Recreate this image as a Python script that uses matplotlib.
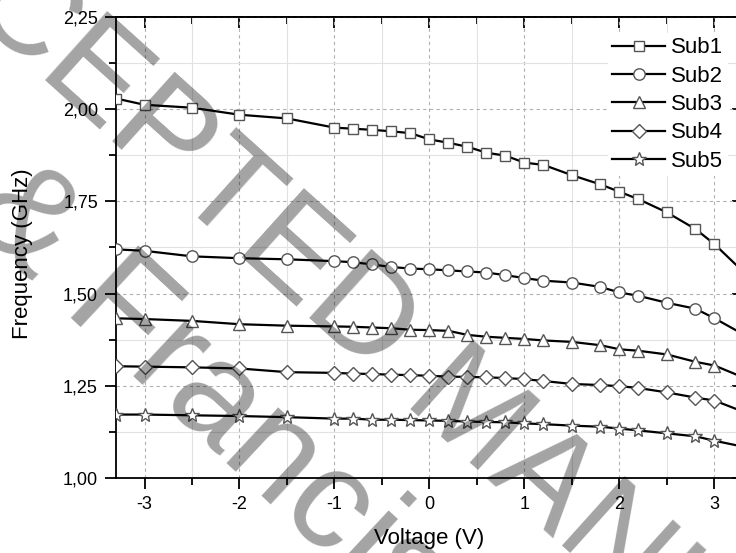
import matplotlib
matplotlib.use("Agg")
import matplotlib.pyplot as plt
from matplotlib.ticker import MultipleLocator, FuncFormatter

plt.rcParams['font.family'] = ['Liberation Sans', 'DejaVu Sans']
plt.rcParams['axes.unicode_minus'] = False

voltage = [-3.3, -3.0, -2.5, -2.0, -1.5, -1.0, -0.8, -0.6, -0.4, -0.2, 0.0, 0.2, 0.4,
           0.6, 0.8, 1.0, 1.2, 1.5, 1.8, 2.0, 2.2, 2.5, 2.8, 3.0, 3.3]
sub1 = [2.029, 2.012, 2.004, 1.985, 1.975, 1.950, 1.947, 1.944, 1.940, 1.935, 1.918, 1.909, 1.898,
        1.882, 1.874, 1.855, 1.849, 1.821, 1.796, 1.776, 1.756, 1.720, 1.675, 1.634, 1.56]
sub2 = [1.620, 1.616, 1.601, 1.596, 1.593, 1.588, 1.585, 1.579, 1.572, 1.568, 1.566, 1.563, 1.560,
        1.557, 1.550, 1.542, 1.535, 1.530, 1.518, 1.503, 1.494, 1.475, 1.459, 1.433, 1.39]
sub3 = [1.433, 1.431, 1.426, 1.417, 1.413, 1.411, 1.410, 1.408, 1.406, 1.402, 1.401, 1.399, 1.388,
        1.383, 1.380, 1.377, 1.373, 1.369, 1.360, 1.349, 1.345, 1.335, 1.315, 1.305, 1.273]
sub4 = [1.303, 1.302, 1.300, 1.297, 1.287, 1.285, 1.283, 1.282, 1.280, 1.279, 1.277, 1.275, 1.274,
        1.273, 1.271, 1.268, 1.263, 1.255, 1.252, 1.249, 1.244, 1.232, 1.218, 1.210, 1.18]
sub5 = [1.172, 1.172, 1.170, 1.168, 1.165, 1.161, 1.161, 1.158, 1.158, 1.157, 1.156, 1.155, 1.153,
        1.152, 1.151, 1.148, 1.146, 1.142, 1.139, 1.134, 1.129, 1.121, 1.113, 1.101, 1.085]
series = [sub1, sub2, sub3, sub4, sub5]
labels = ["Sub1", "Sub2", "Sub3", "Sub4", "Sub5"]
markers = ["s", "o", "^", "D", "*"]
msizes = [7.8, 8.2, 8.2, 7.2, 10]
xticks = [-3, -2, -1, 0, 1, 2, 3]

W, H = 736, 553
fig = plt.figure(figsize=(W / 100, H / 100), dpi=100)
ax_l, ax_r, ax_t, ax_b = 116, 743, 17, 478
ax = fig.add_axes([ax_l / W, 1 - ax_b / H, (ax_r - ax_l) / W, (ax_b - ax_t) / H])

for ys, lab, mk, ms in zip(series, labels, markers, msizes):
    ax.plot(voltage, ys, color='black', lw=1.6, marker=mk, ms=ms, mfc='white',
            mec='#555555', mew=1.0, label=lab, zorder=3)

ax.set_xlim(-3.3, 3.3)
ax.set_ylim(1.0, 2.25)
ax.set_xticks(xticks)
ax.xaxis.set_minor_locator(MultipleLocator(0.5))
ax.yaxis.set_major_locator(MultipleLocator(0.25))
ax.yaxis.set_minor_locator(MultipleLocator(0.125))
ax.yaxis.set_major_formatter(FuncFormatter(lambda v, p: f"{v:.2f}".replace('.', ',')))
ax.xaxis.set_major_formatter(FuncFormatter(lambda v, p: f"{v:g}"))

ax.grid(which='major', color='#b0b0b0', ls=(0, (3, 3)), lw=0.8, zorder=0)
ax.grid(which='minor', color='#e2e2e2', ls='-', lw=0.8, zorder=0)
ax.set_axisbelow(True)

for s in ax.spines.values():
    s.set_linewidth(1.3)
ax.tick_params(which='both', direction='out', width=1.3, labelsize=13, colors='black',
               top=False, right=False)
ax.tick_params(which='major', length=8, pad=5)
ax.tick_params(which='minor', length=5)

secx = ax.secondary_xaxis('top')
secx.set_xticks(xticks)
secx.xaxis.set_minor_locator(MultipleLocator(0.5))
secx.tick_params(which='both', direction='in', width=1.3, labeltop=False)
secx.tick_params(which='major', length=8)
secx.tick_params(which='minor', length=5)
secx.spines['top'].set_linewidth(1.3)
secy = ax.secondary_yaxis('right')
secy.yaxis.set_major_locator(MultipleLocator(0.25))
secy.yaxis.set_minor_locator(MultipleLocator(0.125))
secy.tick_params(which='both', direction='in', width=1.3, labelright=False)
secy.tick_params(which='major', length=8)
secy.tick_params(which='minor', length=5)

ax.set_xlabel("Voltage (V)", fontsize=16, labelpad=11)
ax.set_ylabel("Frequency (GHz)", fontsize=16)
ax.yaxis.set_label_coords(-0.132, 0.487)

leg = ax.legend(loc='upper left', bbox_to_anchor=(608 / W, 1 - 33 / H),
                bbox_transform=fig.transFigure, fontsize=16, frameon=True,
                facecolor='white', edgecolor='none', framealpha=1, fancybox=False,
                handlelength=2.35, handletextpad=0.3, labelspacing=0.33,
                borderpad=0.2, borderaxespad=0)
leg.set_zorder(5)

# watermark
fig.text(446 / W, 1 - 442 / H, "ACCEPTED MANUSCRIPT", fontsize=98, color='black',
         alpha=0.36, rotation=-42, rotation_mode='anchor', ha='center', va='baseline',
         zorder=10)
fig.text(30 / W, 1 - 280 / H, "Taylor & Francis", fontsize=103, color='black',
         alpha=0.36, rotation=-43, rotation_mode='anchor', ha='center', va='baseline',
         zorder=10)

fig.savefig("out.png", dpi=100)
